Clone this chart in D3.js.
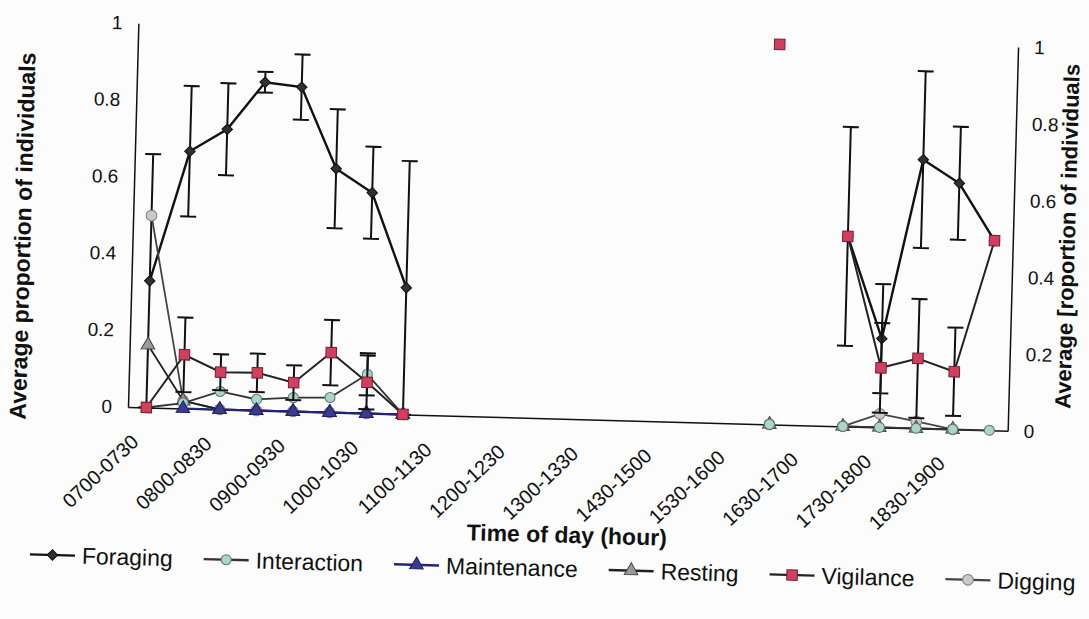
<!DOCTYPE html>
<html>
<head>
<meta charset="utf-8">
<script src="https://cdn.jsdelivr.net/npm/d3@7"></script>
<style>
  body { margin: 0; background: #fcfcfc; }
  svg { font-family: "Liberation Sans", Arial, sans-serif; }
</style>
</head>
<body>
<svg id="chart" width="1089" height="619"></svg>
<script>
// half-hour observation slots (only every other one gets a label)
const categories = ["0700-0730", "0730-0800", "0800-0830", "0830-0900", "0900-0930", "0930-1000",
    "1000-1030", "1030-1100", "1100-1130", "1130-1200", "1200-1230", "1230-1300", "1300-1330",
    "1400-1430", "1430-1500", "1500-1530", "1530-1600", "1600-1630", "1630-1700", "1700-1730",
    "1730-1800", "1800-1830", "1830-1900", "1900-1930"];
const yTicks = [0, 0.2, 0.4, 0.6, 0.8, 1];

const foraging = [0.33, 0.67, 0.73, 0.855, 0.845, 0.635, 0.575, 0.33,
    null, null, null, null, null, null, null, null, null, null, null,
    0.495, 0.231, 0.70, 0.641, 0.494];
const foragingErr = [0.33, 0.17, 0.12, 0.027, 0.085, 0.155, 0.12, 0.33,
    null, null, null, null, null, null, null, null, null, null, null,
    0.285, 0.142, 0.23, 0.147, null];
const interaction = [0, 0.014, 0.047, 0.029, 0.036, 0.039, 0.102, 0,
    null, null, null, null, null, null, null, null, null, 0, null,
    0, 0, 0, 0, 0];
const interactionErr = [null, null, null, null, null, null, 0.055, null,
    null, null, null, null, null, null, null, null, null, null, null,
    null, null, null, null, null];
const maintenance = [null, 0, 0, 0, 0, 0, 0, 0,
    null, null, null, null, null, null, null, null, null, null, null,
    null, null, null, null, null];
const resting = [0.163, 0.02, 0, 0, 0, 0, 0, 0,
    null, null, null, null, null, null, null, null, null, 0, null,
    0, 0, 0, 0, null];
const vigilance = [0, 0.14, 0.097, 0.098, 0.075, 0.156, 0.081, 0,
    null, null, null, null, null, null, null, null, null, 0.99, null,
    0.495, 0.155, 0.182, 0.15, 0.494];
const vigilanceErr = [null, 0.097, 0.047, 0.05, 0.045, 0.085, 0.07, null,
    null, null, null, null, null, null, null, null, null, null, null,
    null, 0.117, 0.155, 0.115, null];
const digging = [0.5, 0.02, 0, 0, 0, 0, 0, 0,
    null, null, null, null, null, null, null, null, null, 0, null,
    0, 0.035, 0.018, 0, null];

const series = [
    {name: "Foraging", values: foraging, errors: foragingErr, symbol: d3.symbolSquare, rot: 45, size: 55,
        fill: "#303030", stroke: "#111", line: "#111", width: 2.4, order: 0},
    {name: "Interaction", values: interaction, errors: interactionErr, symbol: d3.symbolCircle, rot: 0, size: 80,
        fill: "#a9d6c6", stroke: "#5d756c", line: "#333", width: 1.8, order: 3},
    {name: "Maintenance", values: maintenance, errors: null, symbol: d3.symbolTriangle, rot: 0, size: 80,
        fill: "#3b3b8e", stroke: "#1c1c6a", line: "#24247c", width: 2, order: 4},
    {name: "Resting", values: resting, errors: null, symbol: d3.symbolTriangle, rot: 0, size: 80,
        fill: "#9a9a9a", stroke: "#444", line: "#222", width: 1.8, order: 2},
    {name: "Vigilance", values: vigilance, errors: vigilanceErr, symbol: d3.symbolSquare, rot: 0, size: 110,
        fill: "#d33d5e", stroke: "#6e2232", line: "#222", width: 2, order: 5},
    {name: "Digging", values: digging, errors: null, symbol: d3.symbolCircle, rot: 0, size: 90,
        fill: "#c9c9c9", stroke: "#7c7c7c", line: "#444", width: 1.8, order: 1}
];

const svg = d3.select("#chart");
const plotLeft = 128, plotW = 880, baseY = 407, plotH = 384;

// the scanned figure is tilted a little clockwise
const chartG = svg.append("g")
    .attr("transform", `rotate(1.55, ${plotLeft}, ${baseY})`);

const x = d3.scalePoint().domain(categories).range([plotLeft, plotLeft + plotW]).padding(0.5);
const y = d3.scaleLinear().domain([0, 1]).range([baseY, baseY - plotH]);

const styleAxis = g => {
    g.select(".domain").attr("stroke", "#111").attr("stroke-width", 1.5);
    g.selectAll("text").attr("fill", "#111");
};

chartG.append("g")
    .attr("transform", `translate(${plotLeft},0)`)
    .call(d3.axisLeft(y).tickValues(yTicks).tickFormat(d3.format("~g")).tickSize(0).tickPadding(16))
    .call(styleAxis)
    .selectAll("text").attr("font-size", 19);

chartG.append("g")
    .attr("transform", `translate(${plotLeft + plotW},0)`)
    .call(d3.axisRight(y).tickValues(yTicks).tickFormat(d3.format("~g")).tickSize(0).tickPadding(16))
    .call(styleAxis)
    .selectAll("text").attr("font-size", 19);

chartG.append("g")
    .attr("transform", `translate(0,${baseY})`)
    .call(d3.axisBottom(x).tickSize(0).tickSizeOuter(0).tickFormat((d, i) => i % 2 === 0 ? d : ""))
    .call(styleAxis)
    .selectAll("text")
    .attr("font-size", 20)
    .attr("x", 0).attr("y", 0).attr("dy", 0)
    .attr("text-anchor", "end")
    .attr("transform", "translate(-6,36) rotate(-45)");

const line = d3.line()
    .defined(d => d.v !== null)
    .x(d => x(d.c))
    .y(d => y(d.v));

const symbolPath = s => d3.symbol().type(s.symbol).size(s.size)();

series.slice().sort((a, b) => a.order - b.order).forEach(s => {
    const pts = categories.map((c, i) => ({c, v: s.values[i], e: s.errors ? s.errors[i] : null}));
    const g = chartG.append("g").attr("class", "series");

    const capW = 8;
    pts.filter(d => d.v !== null && d.e !== null).forEach(d => {
        const cx = x(d.c);
        const y1 = y(d.v + d.e), y0 = y(Math.max(0, d.v - d.e));
        g.append("path")
            .attr("d", `M${cx},${y1}V${y0}M${cx - capW},${y1}H${cx + capW}M${cx - capW},${y0}H${cx + capW}`)
            .attr("stroke", "#111")
            .attr("stroke-width", 2)
            .attr("fill", "none");
    });

    g.append("path")
        .datum(pts)
        .attr("d", line)
        .attr("fill", "none")
        .attr("stroke", s.line)
        .attr("stroke-width", s.width);

    g.selectAll("path.marker")
        .data(pts.filter(d => d.v !== null))
        .join("path")
        .attr("class", "marker")
        .attr("transform", d => `translate(${x(d.c)},${y(d.v)}) rotate(${s.rot})`)
        .attr("d", symbolPath(s))
        .attr("fill", s.fill)
        .attr("stroke", s.stroke)
        .attr("stroke-width", 1);
});

// axis titles
chartG.append("text")
    .attr("transform", `translate(26,${baseY - plotH / 2 + 24}) rotate(-90)`)
    .attr("text-anchor", "middle")
    .attr("font-size", 23).attr("font-weight", "bold").attr("fill", "#111")
    .text("Average proportion of individuals");

chartG.append("text")
    .attr("transform", `translate(1070,${baseY - plotH / 2 - 4}) rotate(-90)`)
    .attr("text-anchor", "middle")
    .attr("font-size", 22).attr("font-weight", "bold").attr("fill", "#111")
    .text("Average [roportion of individuals");

chartG.append("text")
    .attr("x", 570).attr("y", 531)
    .attr("text-anchor", "middle")
    .attr("font-size", 23).attr("font-weight", "bold").attr("fill", "#111")
    .text("Time of day (hour)");

// legend, laid out left to right
const legendG = chartG.append("g").attr("transform", "translate(34,557)");
let lx = 0;
series.forEach(s => {
    const item = legendG.append("g").attr("transform", `translate(${lx},0)`);
    item.append("line")
        .attr("x1", 0).attr("x2", 45)
        .attr("stroke", s.line).attr("stroke-width", 2.4);
    item.append("path")
        .attr("transform", `translate(22.5,0) rotate(${s.rot})`)
        .attr("d", symbolPath(s))
        .attr("fill", s.fill).attr("stroke", s.stroke);
    const label = item.append("text")
        .attr("x", 52).attr("y", 8)
        .attr("font-size", 23).attr("fill", "#111")
        .text(s.name);
    lx += 52 + label.node().getComputedTextLength() + 31;
});
</script>
</body>
</html>
